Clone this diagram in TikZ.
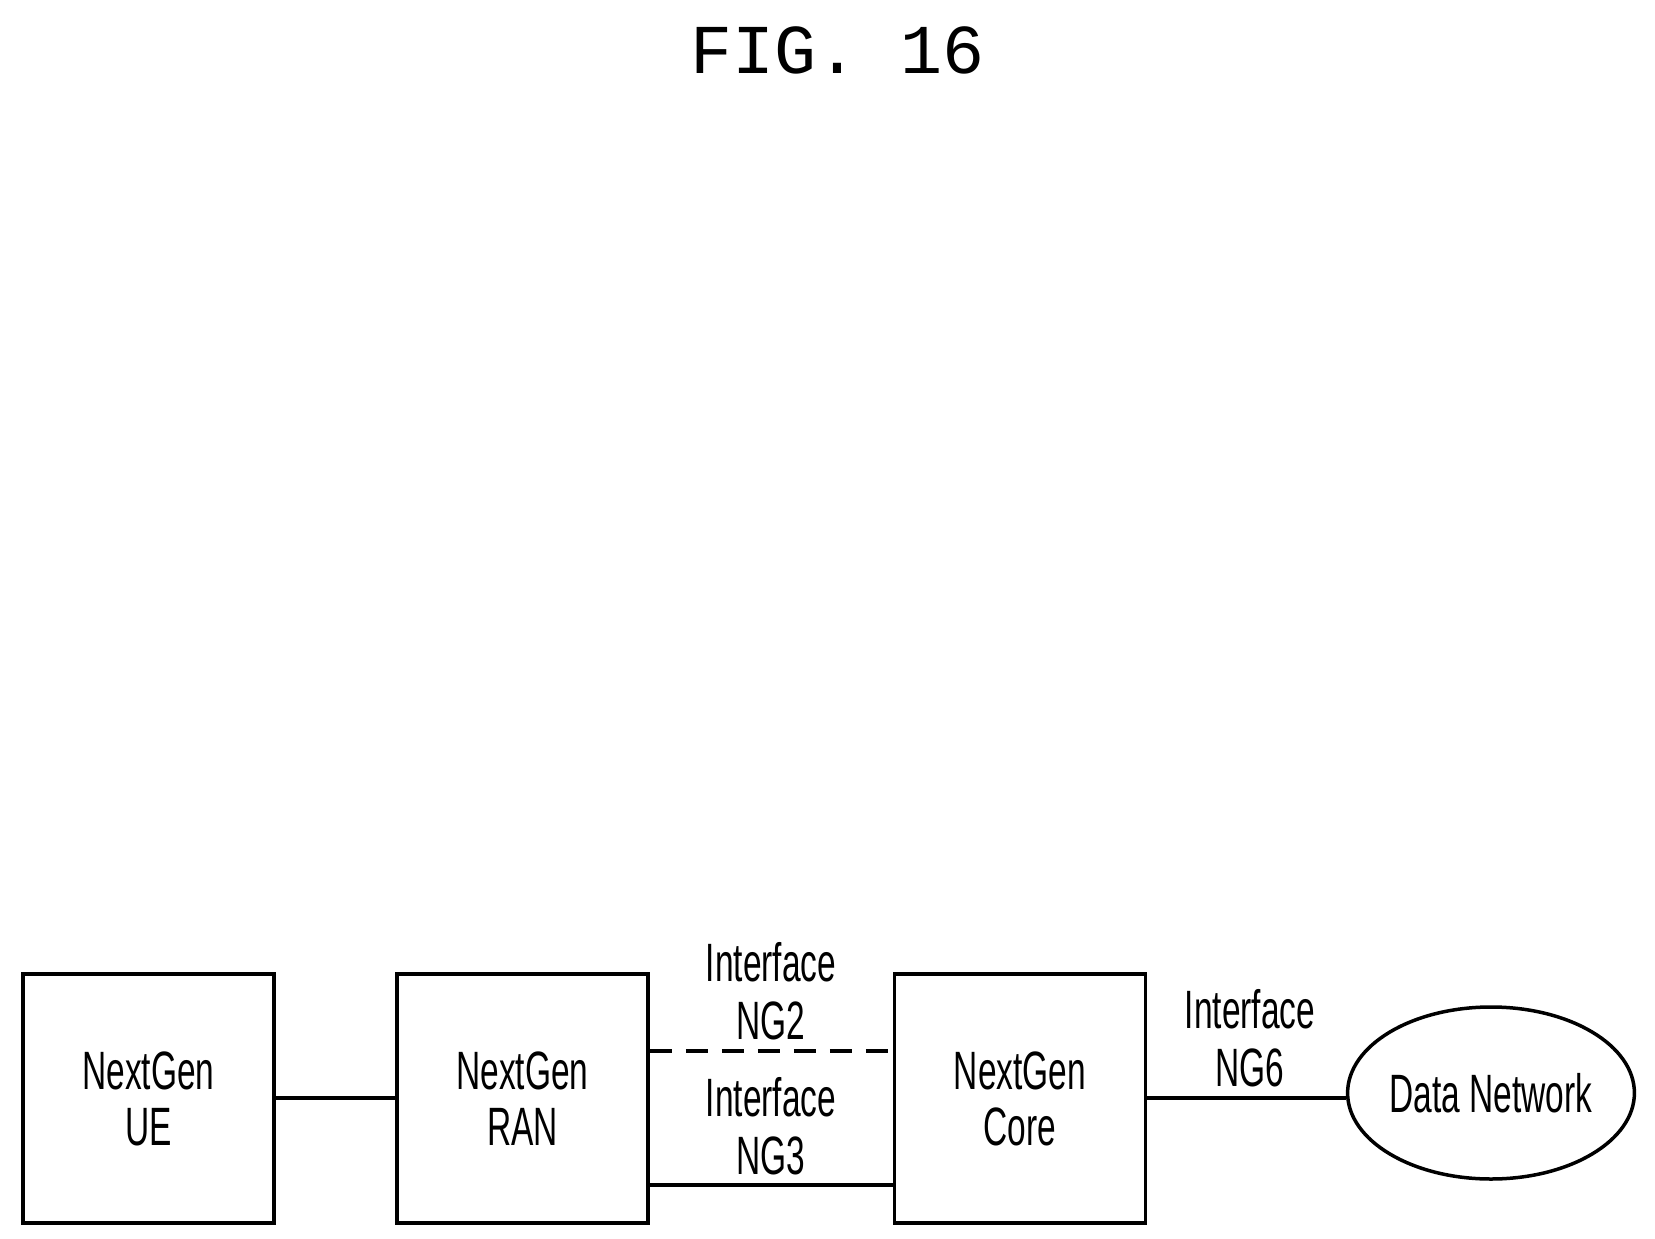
\documentclass[tikz,border=0pt]{standalone}
\usepackage{fontspec}
\setmainfont[FakeStretch=0.62]{Liberation Sans}
\newfontfamily\titlefont{Liberation Mono}
\usetikzlibrary{shapes.geometric}
\begin{document}
\begin{tikzpicture}[x=1pt,y=-1pt,line width=3.5pt,
  box/.style={draw,minimum width=251pt,minimum height=249pt,inner sep=0pt,align=center,font=\fontsize{54}{56}\selectfont},
  lab/.style={align=center,font=\fontsize{54}{58}\selectfont}]
\useasboundingbox (0,0) rectangle (1655,1239);
\node[font=\titlefont\fontsize{70}{70}\selectfont] (t) at (838,50) {FIG. 16};
\node[box] (ue) at (148.5,1098.5) {NextGen\\UE};
\node[box] (ran) at (522.5,1098.5) {NextGen\\RAN};
\node[box] (core) at (1020,1098.5) {NextGen\\Core};
\node[draw,ellipse,minimum width=283pt,minimum height=172pt,inner sep=0pt,font=\fontsize{54}{56}\selectfont] (dn) at (1491,1093) {Data Network};
\draw (ue.east |- 0,1098) -- (ran.west |- 0,1098);
\draw (core.east |- 0,1098) -- (dn.west |- 0,1098);
\draw[dash pattern=on 22pt off 14pt] (ran.east |- 0,1051) -- (core.west |- 0,1051);
\draw (ran.east |- 0,1185) -- (core.west |- 0,1185);
\node[lab] (l2) at (771,991) {Interface\\NG2};
\node[lab] (l3) at (771,1126) {Interface\\NG3};
\node[lab] (l6) at (1250,1038) {Interface\\NG6};
\end{tikzpicture}
\end{document}
